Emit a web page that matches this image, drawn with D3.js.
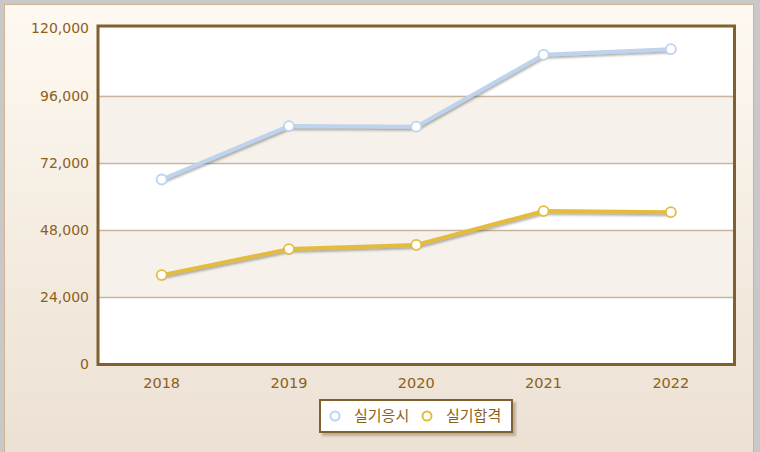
<!DOCTYPE html>
<html><head><meta charset="utf-8">
<script src="https://cdn.jsdelivr.net/npm/d3@7"></script>
<style>html,body{margin:0;padding:0;background:#c8c8c8;}svg{display:block;}</style>
</head><body>
<script>
const years = ["2018","2019","2020","2021","2022"];
const seriesNames = ["실기응시","실기합격"];
const applied = [66000, 85100, 84900, 110600, 112600];
const passed = [31800, 41100, 42600, 54700, 54300];
const yTicks = [0, 24000, 48000, 72000, 96000, 120000];
const colors = ["#bdd3ee", "#e5bb3b"];

const W = 760, H = 452;
const svg = d3.select("body").append("svg").attr("width", W).attr("height", H);
const defs = svg.append("defs");
const bg = defs.append("linearGradient").attr("id","bg").attr("x1",0).attr("y1",0).attr("x2",0).attr("y2",1);
bg.append("stop").attr("offset","0%").attr("stop-color","#fef9f1");
bg.append("stop").attr("offset","100%").attr("stop-color","#ebe0d2");
const f = defs.append("filter").attr("id","sh").attr("x","-10%").attr("y","-10%").attr("width","130%").attr("height","140%");
f.append("feDropShadow").attr("dx",1).attr("dy",2).attr("stdDeviation",1.2).attr("flood-color","#555").attr("flood-opacity",0.45);
const f2 = defs.append("filter").attr("id","lsh").attr("x","-10%").attr("y","-20%").attr("width","130%").attr("height","160%");
f2.append("feDropShadow").attr("dx",3).attr("dy",3).attr("stdDeviation",1).attr("flood-color","#8a7a66").attr("flood-opacity",0.5);

svg.append("rect").attr("x",4.5).attr("y",4.5).attr("width",749).attr("height",460)
  .attr("fill","url(#bg)").attr("stroke","#cdb593").attr("stroke-width",1);

const L = 98, R = 734.5, T = 26, B = 364.5;
const x = d3.scaleBand().domain(years).range([L, R]);
const y = d3.scaleLinear().domain([0,120000]).range([364, 28.5]);

const g = svg.append("g");
g.append("rect").attr("x",L).attr("y",T).attr("width",R-L).attr("height",B-T).attr("fill","#fff");
for (let i = 0; i < yTicks.length-1; i++) {
  if (i % 2 === 1) {
    g.append("rect").attr("x",L).attr("width",R-L)
      .attr("y", y(yTicks[i+1])).attr("height", y(yTicks[i]) - y(yTicks[i+1]))
      .attr("fill","#f6f1ea");
  }
}
g.selectAll("line.grid").data(yTicks.slice(1,-1)).join("line")
  .attr("x1",L).attr("x2",R).attr("y1",d=>Math.round(y(d))+0.5).attr("y2",d=>Math.round(y(d))+0.5)
  .attr("stroke","#c9b49c").attr("stroke-width",1.3);

const yAxis = d3.axisLeft(y).tickValues(yTicks).tickSize(0).tickPadding(8).tickFormat(d3.format(","));
const ya = svg.append("g").attr("transform",`translate(${L-1},0)`).call(yAxis);
ya.select(".domain").remove();
ya.selectAll("text").attr("font-family","DejaVu Sans, Verdana, sans-serif").attr("font-size",14).attr("fill","#8d5f1c");

const xAxis = d3.axisBottom(x).tickSize(0).tickPadding(13);
const xa = svg.append("g").attr("transform",`translate(0,${B})`).call(xAxis);
xa.select(".domain").remove();
xa.selectAll("text").attr("font-family","DejaVu Sans, Verdana, sans-serif").attr("font-size",14.5).attr("fill","#8d5f1c");

svg.append("rect").attr("x",L).attr("y",T).attr("width",R-L).attr("height",B-T)
  .attr("fill","none").attr("stroke","#80602f").attr("stroke-width",3);

const line = d3.line().x((d,i)=>x(years[i]) + x.bandwidth()/2).y(d=>y(d));
[applied, passed].forEach((vals, si) => {
  svg.append("path").datum(vals).attr("d", line).attr("fill","none")
    .attr("stroke", colors[si]).attr("stroke-width",4).attr("stroke-linejoin","round")
    .attr("filter","url(#sh)");
});
[applied, passed].forEach((vals, si) => {
  svg.append("g").selectAll("circle").data(vals).join("circle")
    .attr("cx",(d,i)=>x(years[i]) + x.bandwidth()/2).attr("cy",d=>y(d)).attr("r",5)
    .attr("fill","#fff").attr("stroke",colors[si]).attr("stroke-width",1.8);
});

const lg = svg.append("g");
lg.append("rect").attr("x",320).attr("y",400).attr("width",192).attr("height",32)
  .attr("fill","#fff").attr("stroke","#80602f").attr("stroke-width",2).attr("filter","url(#lsh)");
const itemX = [335, 427];
seriesNames.forEach((n, i) => {
  lg.append("circle").attr("cx",itemX[i]).attr("cy",416).attr("r",4.5)
    .attr("fill","#fff").attr("stroke",colors[i]).attr("stroke-width",2);
  lg.append("text").attr("x",itemX[i]+19).attr("y",416).attr("dy","0.36em")
    .attr("font-family","Noto Sans CJK KR, sans-serif").attr("font-size",15)
    .attr("fill","#8d5f1c").text(n);
});
</script>
</body></html>
